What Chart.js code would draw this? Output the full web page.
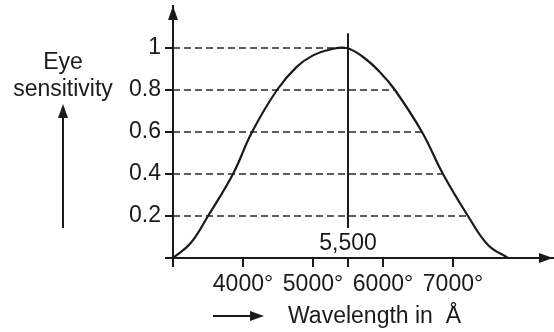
<!DOCTYPE html>
<html>
<head>
<meta charset="utf-8">
<script src="https://cdn.jsdelivr.net/npm/chart.js@4"></script>
<style>
  body { margin: 0; background: #fff; }
  canvas { display: block; }
</style>
</head>
<body>
<canvas id="eye-chart" width="554" height="332"></canvas>
<script>
// eye sensitivity vs wavelength (angstrom)

const wavelengths = [3000, 3250, 3500, 3857, 4129, 4486, 4767, 5000, 5243, 5480, 5719, 5957, 6171, 6557, 6857, 7214, 7500, 7786];
const sensitivity = [0, 0.07, 0.2, 0.4, 0.6, 0.8, 0.91, 0.965, 0.993, 1.0, 0.956, 0.885, 0.8, 0.6, 0.4, 0.2, 0.062, 0];

// dashed guide lines: level and where it meets the right side of the curve
const guideLevels = [1, 0.8, 0.6, 0.4, 0.2];
const guideEnds = [5500, 6171, 6557, 6857, 7214];

// vertical marker at the peak
const peakX = 5500;
const peakLine = [0.143, 1.07];

const xTicks = [3000, 4000, 5000, 5500, 6000, 7000];
const xLabels = ["", "4000°", "5000°", "", "6000°", "7000°"];
const yTicks = [0, 0.2, 0.4, 0.6, 0.8, 1];
const yLabels = ["", "0.2", "0.4", "0.6", "0.8", "1"];

const ink = "#1a1a1a";
const font = "'Liberation Sans', Arial, sans-serif";

const datasets = [
  {
    data: wavelengths.map((x, i) => ({ x, y: sensitivity[i] })),
    borderColor: ink,
    borderWidth: 2.2,
    pointRadius: 0,
    tension: 0.4
  },
  {
    data: peakLine.map(y => ({ x: peakX, y })),
    borderColor: ink,
    borderWidth: 2,
    pointRadius: 0
  }
];
guideLevels.forEach((y, i) => {
  datasets.push({
    data: [{ x: 3000, y }, { x: guideEnds[i], y }],
    borderColor: "#2a2a2a",
    borderWidth: 1.7,
    borderDash: [7, 4],
    pointRadius: 0
  });
});

const extras = {
  id: "extras",
  afterDraw(chart) {
    const c = chart.ctx;
    const a = chart.chartArea;
    const xs = chart.scales.x;
    const ys = chart.scales.y;
    c.save();
    c.fillStyle = ink;
    c.strokeStyle = ink;
    c.lineWidth = 2;

    const head = (x, y, dir) => {
      c.beginPath();
      if (dir === "up") {
        c.moveTo(x, y);
        c.lineTo(x - 5, y + 14);
        c.lineTo(x + 5, y + 14);
      } else {
        c.moveTo(x, y);
        c.lineTo(x - 14, y - 5);
        c.lineTo(x - 14, y + 5);
      }
      c.closePath();
      c.fill();
    };
    // axis arrowheads
    head(a.left, a.top, "up");
    head(chart.width - 1, a.bottom, "right");

    // y label and its arrow
    c.font = "23px " + font;
    c.textAlign = "center";
    c.textBaseline = "middle";
    c.fillText("Eye", 63, 63);
    c.fillText("sensitivity", 63, 90);
    c.beginPath();
    c.moveTo(63, 228);
    c.lineTo(63, 115);
    c.stroke();
    head(63, 104, "up");

    // peak value
    c.fillText("5,500", xs.getPixelForValue(peakX), ys.getPixelForValue(0.07));

    // x label and its arrow
    c.beginPath();
    c.moveTo(213, 316);
    c.lineTo(252, 316);
    c.stroke();
    head(264, 316, "right");
    c.textAlign = "left";
    c.fillText("Wavelength in  Å", 288, 317);
    c.restore();
  }
};

new Chart(document.getElementById("eye-chart"), {
  type: "line",
  data: { datasets },
  options: {
    responsive: false,
    animation: false,
    layout: { padding: { top: 6, right: 0, left: 0, bottom: 0 } },
    plugins: { legend: { display: false }, tooltip: { enabled: false } },
    scales: {
      x: {
        type: "linear",
        min: 3000,
        max: 8443,
        afterBuildTicks: s => { s.ticks = xTicks.map(v => ({ value: v })); },
        afterFit: s => { s.height = 74; s.paddingLeft = 0; s.paddingRight = 0; },
        ticks: {
          autoSkip: false,
          maxRotation: 0,
          padding: 4,
          color: ink,
          font: { family: font, size: 23 },
          callback: v => xLabels[xTicks.indexOf(v)]
        },
        grid: { drawOnChartArea: false, drawTicks: true, tickLength: 9, color: ink, lineWidth: 2 },
        border: { display: true, color: ink, width: 2 }
      },
      y: {
        min: 0,
        max: 1.2,
        afterBuildTicks: s => { s.ticks = yTicks.map(v => ({ value: v })); },
        afterFit: s => { s.width = 173; s.paddingTop = 0; s.paddingBottom = 0; },
        ticks: {
          padding: 4,
          color: ink,
          font: { family: font, size: 23 },
          callback: v => yLabels[yTicks.indexOf(v)]
        },
        grid: { drawOnChartArea: false, drawTicks: true, tickLength: 8, color: ink, lineWidth: 2 },
        border: { display: true, color: ink, width: 2 }
      }
    }
  },
  plugins: [extras]
});
</script>
</body>
</html>
